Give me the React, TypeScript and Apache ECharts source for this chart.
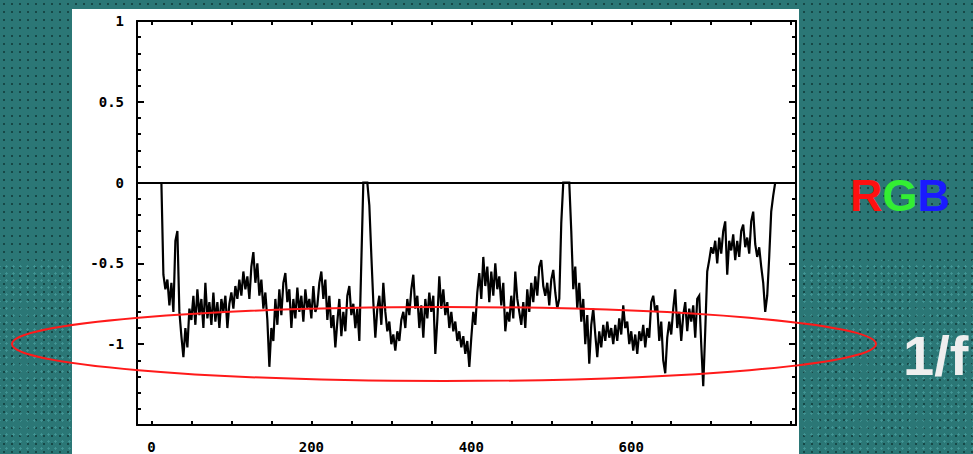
import React, { useEffect, useRef } from "react";
import * as echarts from "echarts";

// sample positions along x: first sample and spacing (x units)
const X_START = 12.5;
const X_STEP = 2.5;

// signal values (one per 2.5 x units)
const signal: number[] = [
  0, -0.57, -0.66, -0.6, -0.76, -0.62, -0.8, -0.36, -0.3, -0.8,
  -0.95, -1.08, -0.9, -1.02, -0.78, -0.85, -0.7, -0.88, -0.66, -0.82,
  -0.72, -0.9, -0.62, -0.84, -0.74, -0.88, -0.68, -0.86, -0.74, -0.9,
  -0.72, -0.8, -0.7, -0.9, -0.75, -0.68, -0.78, -0.64, -0.72, -0.6,
  -0.7, -0.55, -0.66, -0.58, -0.72, -0.52, -0.43, -0.62, -0.5, -0.7,
  -0.6, -0.78, -0.68, -0.85, -1.14, -0.9, -0.98, -0.72, -0.88, -0.66,
  -0.82, -0.62, -0.56, -0.74, -0.66, -0.9, -0.72, -0.84, -0.65, -0.8,
  -0.7, -0.86, -0.66, -0.78, -0.72, -0.84, -0.64, -0.8, -0.76, -0.62,
  -0.55, -0.72, -0.6, -0.85, -0.7, -0.9, -0.82, -1.02, -0.86, -0.72,
  -0.95, -0.8, -0.92, -0.7, -0.64, -0.82, -0.75, -0.9, -0.78, -0.98,
  -0.49, 0, 0, 0, -0.14, -0.45, -0.74, -0.96, -0.78, -0.7,
  -0.88, -0.62, -0.8, -0.92, -0.86, -1.0, -0.94, -1.04, -0.92, -0.98,
  -0.85, -0.8, -0.9, -0.72, -0.82, -0.66, -0.57, -0.78, -0.7, -0.9,
  -0.76, -0.96, -0.72, -0.84, -0.68, -0.8, -0.7, -1.06, -0.85, -0.58,
  -0.78, -0.66, -0.82, -0.74, -0.9, -0.8, -0.92, -0.86, -0.98, -0.92,
  -1.02, -0.95, -1.06, -0.98, -1.14, -0.96, -0.8, -0.88, -0.68, -0.56,
  -0.72, -0.46, -0.64, -0.52, -0.74, -0.55, -0.7, -0.5, -0.66, -0.58,
  -0.76, -0.62, -0.92, -0.8, -0.86, -0.7, -0.84, -0.55, -0.72, -0.8,
  -0.88, -0.74, -0.9, -0.66, -0.8, -0.62, -0.74, -0.58, -0.7, -0.52,
  -0.48, -0.64, -0.7, -0.62, -0.76, -0.6, -0.54, -0.68, -0.78, -0.72,
  -0.25, 0, 0, 0, 0, -0.3, -0.66, -0.52, -0.78, -0.62,
  -0.86, -0.72, -1.0, -0.82, -1.12, -0.88, -0.78, -0.94, -1.08, -0.92,
  -1.02, -0.88, -0.98, -0.86, -0.96, -0.9, -1.0, -0.88, -0.98, -0.84,
  -0.94, -0.76, -0.9, -0.86, -1.0, -0.92, -1.04, -0.94, -1.06, -0.92,
  -0.98, -0.88, -1.02, -0.9, -0.96, -0.74, -0.7, -0.8, -0.76, -0.98,
  -0.86, -1.1, -1.18, -0.96, -0.86, -0.94, -0.78, -0.66, -0.9, -0.8,
  -0.98, -0.82, -0.74, -0.92, -0.78, -0.86, -0.76, -0.96, -0.72, -0.7,
  -1.0, -1.26, -0.92, -0.55, -0.48, -0.4, -0.44, -0.36, -0.5, -0.34,
  -0.44, -0.3, -0.24, -0.57, -0.36, -0.42, -0.32, -0.48, -0.36, -0.46,
  -0.3, -0.26, -0.4, -0.34, -0.44, -0.24, -0.18, -0.38, -0.46, -0.4,
  -0.52, -0.62, -0.8, -0.7, -0.46, -0.18, -0.08, 0,
];

const xTickValues = [0, 50, 100, 150, 200, 250, 300, 350, 400, 450, 500, 550, 600, 650, 700, 750, 800];
const xLabelValues = [0, 200, 400, 600];
const xMin = -18;
const xMax = 806;
const yMin = -1.5;
const yMax = 1;
const yStep = 0.5;
const yHiddenLabels = [-1.5];

const MONO = '"DejaVu Sans Mono", monospace';
const SANS = '"Liberation Sans", Arial, sans-serif';

export default function App() {
  const ref = useRef<HTMLDivElement>(null);

  useEffect(() => {
    if (!ref.current) return;
    const chart = echarts.init(ref.current, null, { renderer: "svg" });
    const data = signal.map((v, i) => [X_START + i * X_STEP, v]);

    const lineStyle = { color: "#000", width: 2 };
    const xCommon = {
      type: "value",
      min: xMin,
      max: xMax,
      axisLine: { show: true, onZero: false, lineStyle },
      axisTick: { show: true, inside: true, length: 4, customValues: xTickValues, lineStyle },
      splitLine: { show: false },
    };
    const yCommon = {
      type: "value",
      min: yMin,
      max: yMax,
      interval: yStep,
      axisLine: { show: true, onZero: false, lineStyle },
      axisTick: { show: true, inside: true, length: 7, lineStyle },
      minorTick: { show: true, splitNumber: 5, length: 4, lineStyle },
      splitLine: { show: false },
      minorSplitLine: { show: false },
    };

    chart.setOption({
      animation: false,
      backgroundColor: "transparent",
      grid: { left: 137, right: 177, top: 21, bottom: 28, containLabel: false },
      xAxis: [
        {
          ...xCommon,
          position: "bottom",
          axisLabel: {
            show: true,
            customValues: xLabelValues,
            margin: 15,
            color: "#000",
            fontFamily: MONO,
            fontWeight: "bold",
            fontSize: 14,
          },
        },
        { ...xCommon, position: "top", axisLabel: { show: false } },
      ],
      yAxis: [
        {
          ...yCommon,
          position: "left",
          axisLabel: {
            show: true,
            margin: 13,
            color: "#000",
            fontFamily: MONO,
            fontWeight: "bold",
            fontSize: 14,
            formatter: (v: number) => (yHiddenLabels.includes(v) ? "" : String(v)),
          },
        },
        { ...yCommon, position: "right", axisLabel: { show: false } },
      ],
      series: [
        {
          type: "line",
          data,
          xAxisIndex: 0,
          yAxisIndex: 0,
          showSymbol: false,
          symbol: "none",
          lineStyle: { color: "#000", width: 2.2, join: "miter" },
          z: 3,
          markLine: {
            silent: true,
            symbol: ["none", "none"],
            label: { show: false },
            lineStyle: { color: "#000", width: 2, type: "solid" },
            data: [{ yAxis: 0 }],
          },
        },
      ],
      graphic: [
        {
          type: "ellipse",
          shape: { cx: 444, cy: 344, rx: 432, ry: 37 },
          style: { fill: "none", stroke: "#ff1a1a", lineWidth: 2 },
          z: 100,
        },
        {
          type: "text",
          x: 850,
          y: 195,
          style: {
            text: "{r|R}{g|G}{b|B}",
            verticalAlign: "middle",
            align: "left",
            font: "bold 45px " + SANS,
            rich: {
              r: { fill: "#ff1010", fontSize: 45, fontWeight: "bold", fontFamily: SANS },
              g: { fill: "#33ee33", fontSize: 45, fontWeight: "bold", fontFamily: SANS },
              b: { fill: "#1a1aff", fontSize: 45, fontWeight: "bold", fontFamily: SANS },
            },
          },
          z: 100,
        },
        {
          type: "text",
          x: 903,
          y: 355,
          style: {
            text: "1/f",
            verticalAlign: "middle",
            align: "left",
            fill: "#eeeeee",
            font: "bold 56px " + SANS,
          },
          z: 100,
        },
      ],
    });

    return () => chart.dispose();
  }, []);

  return (
    <div
      style={{
        position: "fixed",
        left: 0,
        top: 0,
        width: 973,
        height: 454,
        overflow: "hidden",
        backgroundColor: "#2b7776",
      }}
    >
      <div
        style={{
          position: "absolute",
          left: 0,
          top: 0,
          width: 973,
          height: 454,
          backgroundImage: "radial-gradient(circle, rgba(10,40,40,0.6) 1px, transparent 1.5px)",
          backgroundSize: "8px 8px",
        }}
      />
      <div
        style={{
          position: "absolute",
          left: 0,
          top: 260,
          width: 973,
          height: 194,
          backgroundImage: "radial-gradient(circle, rgba(110,210,210,0.35) 0.9px, transparent 1.4px)",
          backgroundSize: "7px 7px",
          backgroundPosition: "3px 3px",
        }}
      />
      <div style={{ position: "absolute", left: 72, top: 9, width: 727, height: 445, background: "#fff" }} />
      <div ref={ref} style={{ position: "absolute", left: 0, top: 0, width: 973, height: 454 }} />
    </div>
  );
}
